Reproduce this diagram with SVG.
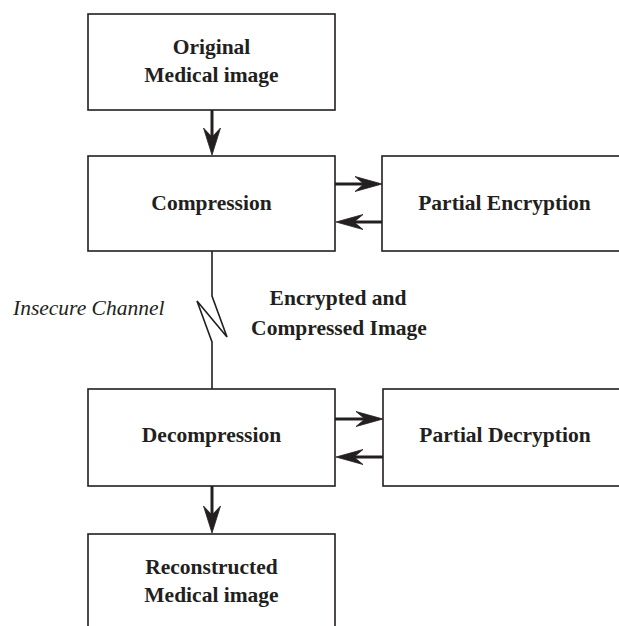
<svg xmlns="http://www.w3.org/2000/svg" width="619" height="626" viewBox="0 0 619 626">
<style>
.box{fill:#fff;stroke:#231f20;stroke-width:1.6}
.t{font-family:"Liberation Serif","Times New Roman",serif;font-weight:bold;font-size:21.5px;fill:#231f20;text-anchor:middle}
.it{font-family:"Liberation Serif","Times New Roman",serif;font-style:italic;font-size:21.5px;fill:#231f20}
.shaft{stroke:#231f20;stroke-width:3;fill:none}
.thin{stroke:#231f20;stroke-width:1.6;fill:none}
.head{fill:#231f20;stroke:#231f20;stroke-width:0.8;stroke-linejoin:miter}
</style>
<rect width="619" height="626" fill="#fff"/>
<g id="connectors">
<line class="shaft" x1="212" y1="110" x2="212" y2="140"/>
<path class="head" d="M212,155 L203.5,128 L212,137 L220.5,128 Z"/>
<line class="shaft" x1="335" y1="184" x2="368" y2="184"/>
<path class="head" d="M382,184 L355,176.5 L364,184 L355,191.5 Z"/>
<line class="shaft" x1="382" y1="222" x2="350" y2="222"/>
<path class="head" d="M336,222 L363,214.5 L354,222 L363,229.5 Z"/>
<line class="shaft" x1="335" y1="419" x2="369" y2="419"/>
<path class="head" d="M383,419 L356,411.5 L365,419 L356,426.5 Z"/>
<line class="shaft" x1="383" y1="457" x2="350" y2="457"/>
<path class="head" d="M336,457 L363,449.5 L354,457 L363,464.5 Z"/>
<line class="shaft" x1="212" y1="486" x2="212" y2="518"/>
<path class="head" d="M212,533 L203.5,506 L212,515 L220.5,506 Z"/>
<polyline class="thin" points="212,251 212,296 227,337 197,301 212,342 212,389"/>
</g>
<g id="original">
<rect class="box" x="88" y="14" width="247" height="96"/>
<text class="t" x="211.5" y="54">Original</text>
<text class="t" x="211.5" y="82">Medical image</text>
</g>
<g id="compression">
<rect class="box" x="88" y="156" width="247" height="95"/>
<text class="t" x="211.5" y="210">Compression</text>
</g>
<g id="encryption">
<rect class="box" x="382" y="156" width="250" height="95"/>
<text class="t" x="504.5" y="210">Partial Encryption</text>
</g>
<g id="decompression">
<rect class="box" x="88" y="389" width="247" height="97"/>
<text class="t" x="211.5" y="442">Decompression</text>
</g>
<g id="decryption">
<rect class="box" x="383" y="389" width="250" height="97"/>
<text class="t" x="505" y="442">Partial Decryption</text>
</g>
<g id="reconstructed">
<rect class="box" x="88" y="534" width="247" height="100"/>
<text class="t" x="211.5" y="574">Reconstructed</text>
<text class="t" x="211.5" y="602">Medical image</text>
</g>
<g id="labels">
<text class="it" x="13" y="315">Insecure Channel</text>
<text class="t" x="338" y="305">Encrypted and</text>
<text class="t" x="339" y="335">Compressed Image</text>
</g>
</svg>
